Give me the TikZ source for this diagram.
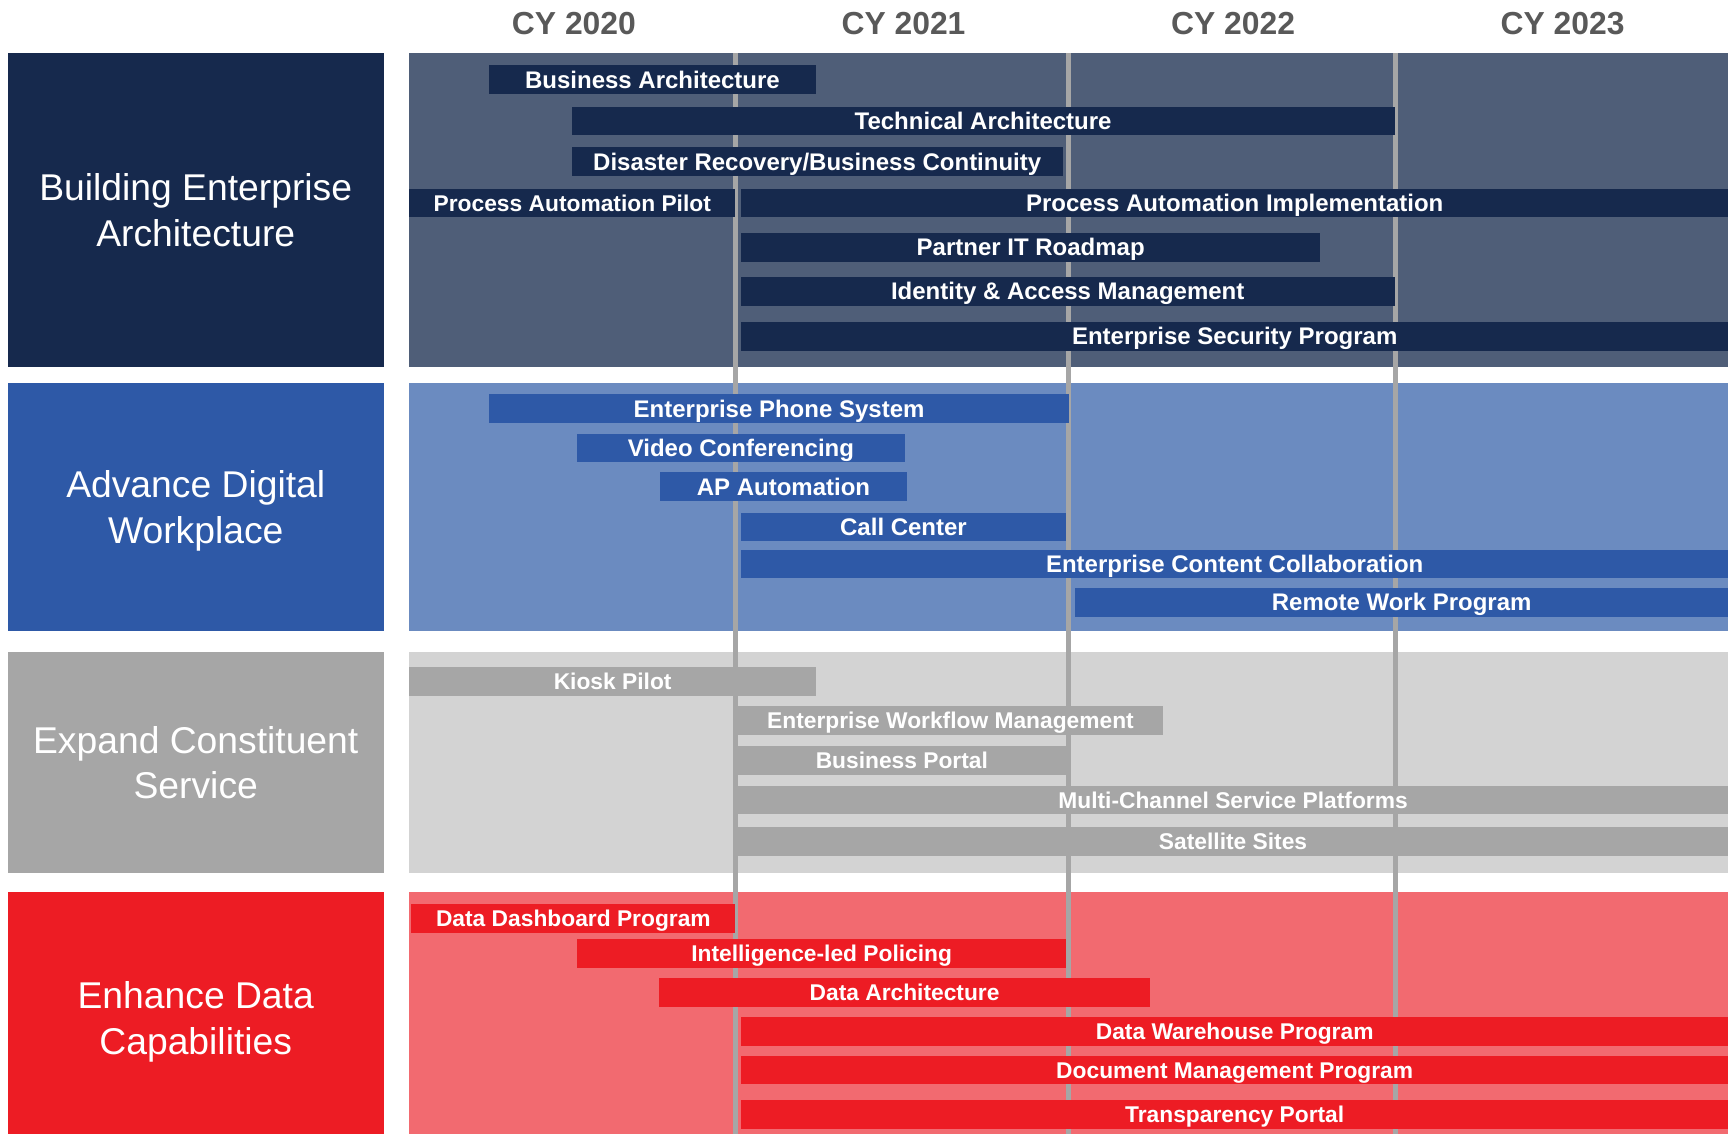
\documentclass[tikz,border=0pt]{standalone}
\usepackage{fontspec}
\setmainfont{Liberation Sans}
\usetikzlibrary{positioning}

\definecolor{navybox}{HTML}{16294D}
\definecolor{navylane}{HTML}{4F5E78}
\definecolor{bluebox}{HTML}{2E59A7}
\definecolor{bluelane}{HTML}{6B8BC0}
\definecolor{graybox}{HTML}{A6A6A6}
\definecolor{graylane}{HTML}{D3D3D3}
\definecolor{redbox}{HTML}{ED1C24}
\definecolor{redlane}{HTML}{F26A70}
\definecolor{yeargray}{HTML}{595959}

\begin{document}
\begin{tikzpicture}[x=1pt,y=-1pt,
	  goal box/.style={rectangle,inner sep=0pt,minimum width=340pt,text=white,align=center,
	    text depth=0pt,font=\fontsize{33.7}{41}\selectfont},
	  lane/.style={rectangle,inner sep=0pt,minimum width=1193pt},
	  task bar/.style={rectangle,inner sep=0pt,minimum height=26pt,text=white,
	    text height=15.5pt,text depth=0pt,font=\fontsize{21.7}{26}\selectfont\bfseries},
	  tight bar/.style={task bar,text height=14.7pt,font=\fontsize{20.6}{26}\selectfont\bfseries},
	  year label/.style={text=yeargray,font=\fontsize{28.8}{34}\selectfont\bfseries},
	  grid line/.style={draw=graybox,line width=4.5pt}]

	 \useasboundingbox (0,0) rectangle (1568,1025);

	 % years
	 \node[year label] (y20) at (519,21) {CY 2020};
	 \node[year label] (y21) at (817,21) {CY 2021};
	 \node[year label] (y22) at (1115,21) {CY 2022};
	 \node[year label] (y23) at (1413,21) {CY 2023};

	 % goals
	 \node[goal box, fill=navybox, minimum height=284pt] (bea) at (177,190) {Building Enterprise\\Architecture};
	 \node[goal box, fill=bluebox, minimum height=225pt] (adw) at (177,458.5) {Advance Digital\\Workplace};
	 \node[goal box, fill=graybox, minimum height=199pt] (ecs) at (177,689.5) {Expand Constituent\\Service};
	 \node[goal box, fill=redbox, minimum height=227pt] (edc) at (177,920.5) {Enhance Data\\Capabilities};

	 % lanes
	 \node[lane, fill=navylane, minimum height=284pt] (bea lane) at (966.5,190) {};
	 \node[lane, fill=bluelane, minimum height=225pt] (adw lane) at (966.5,458.5) {};
	 \node[lane, fill=graylane, minimum height=199pt] (ecs lane) at (966.5,689.5) {};
	 \node[lane, fill=redlane, minimum height=227pt] (edc lane) at (966.5,920.5) {};

	 % year boundaries
	 \draw[grid line] (665,48) -- (665,1034);
	 \draw[grid line] (966,48) -- (966,1034);
	 \draw[grid line] (1262,48) -- (1262,1034);

	 % building enterprise architecture
	 \node[task bar, fill=navybox, minimum width=296pt] (ba) at (590,72) {Business Architecture};
	 \node[task bar, fill=navybox, minimum width=744pt] (ta) at (889,109.5) {Technical Architecture};
	 \node[task bar, fill=navybox, minimum width=444pt] (drbc) at (739,146) {Disaster Recovery/Business Continuity};
	 \node[tight bar, fill=navybox, minimum width=295pt] (pap) at (517.5,183.5) {Process Automation Pilot};
	 \node[task bar, fill=navybox, minimum width=893pt] (pai) at (1116.5,183.5) {Process Automation Implementation};
	 \node[task bar, fill=navybox, minimum width=524pt] (pitr) at (932,223.5) {Partner IT Roadmap};
	 \node[task bar, fill=navybox, minimum width=591pt] (iam) at (965.5,263.5) {Identity \& Access Management};
	 \node[task bar, fill=navybox, minimum width=893pt] (esp) at (1116.5,304) {Enterprise Security Program};

	 % advance digital workplace
	 \node[task bar, fill=bluebox, minimum width=525pt] (eps) at (704.5,369.5) {Enterprise Phone System};
	 \node[task bar, fill=bluebox, minimum width=296pt] (vc) at (670,405) {Video Conferencing};
	 \node[task bar, fill=bluebox, minimum width=223pt] (apa) at (708.5,440) {AP Automation};
	 \node[task bar, fill=bluebox, minimum width=294pt] (cc) at (817,476.5) {Call Center};
	 \node[task bar, fill=bluebox, minimum width=893pt] (ecc) at (1116.5,510) {Enterprise Content Collaboration};
	 \node[task bar, fill=bluebox, minimum width=591pt] (rwp) at (1267.5,544.5) {Remote Work Program};

	 % expand constituent service
	 \node[tight bar, fill=graybox, minimum width=368pt] (kp) at (554,616.5) {Kiosk Pilot};
	 \node[tight bar, fill=graybox, minimum width=385pt] (ewm) at (859.5,651.5) {Enterprise Workflow Management};
	 \node[tight bar, fill=graybox, minimum width=297pt] (bp) at (815.5,687.5) {Business Portal};
	 \node[tight bar, fill=graybox, minimum width=896pt] (mcsp) at (1115,723.5) {Multi-Channel Service Platforms};
	 \node[tight bar, fill=graybox, minimum width=896pt] (ss) at (1115,761) {Satellite Sites};

	 % enhance data capabilities
	 \node[tight bar, fill=redbox, minimum width=293pt] (ddp) at (518.5,830.5) {Data Dashboard Program};
	 \node[tight bar, fill=redbox, minimum width=442pt] (ilp) at (743,862.5) {Intelligence-led Policing};
	 \node[tight bar, fill=redbox, minimum width=444pt] (da) at (818,897.5) {Data Architecture};
	 \node[tight bar, fill=redbox, minimum width=893pt] (dwp) at (1116.5,932.5) {Data Warehouse Program};
	 \node[tight bar, fill=redbox, minimum width=893pt] (dmp) at (1116.5,967.5) {Document Management Program};
	 \node[tight bar, fill=redbox, minimum width=893pt] (tp) at (1116.5,1007.5) {Transparency Portal};
	\end{tikzpicture}
\end{document}
